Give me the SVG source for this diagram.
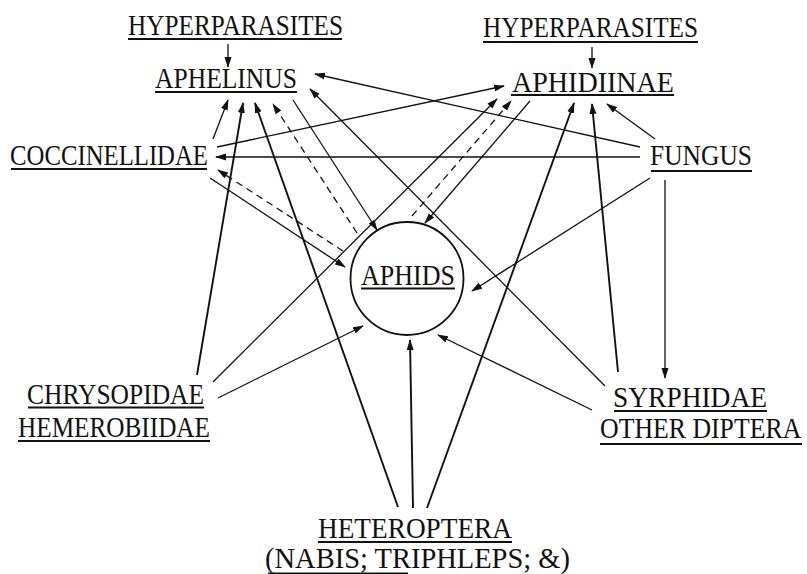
<svg xmlns="http://www.w3.org/2000/svg" width="807" height="574" viewBox="0 0 807 574">
<style>
  text { font-family: "Liberation Serif", "Times New Roman", serif; font-size: 30px; fill: #111; }
  .ul { stroke: #111; stroke-width: 2.2; }
  .e { stroke: #111; stroke-width: 1.3; fill: none; marker-end: url(#ah); }
  .b { stroke-width: 1.9; }
  .d { stroke-dasharray: 7 5; }
</style>
<defs>
  <marker id="ah" markerUnits="userSpaceOnUse" markerWidth="11" markerHeight="8" refX="10" refY="4" orient="auto">
    <path d="M0,0.5 L11,4 L0,7.5 z" fill="#111"/>
  </marker>
</defs>
<rect width="807" height="574" fill="#fff"/>

<g id="connectors">
  <line class="e" x1="228" y1="44" x2="228" y2="67"/>
  <line class="e" x1="592" y1="47" x2="592" y2="68"/>
  <line class="e" x1="213" y1="139" x2="228" y2="100"/>
  <line class="e b" x1="197" y1="375" x2="243" y2="103"/>
  <line class="e b" x1="398" y1="507" x2="255" y2="103"/>
  <line class="e d" x1="357" y1="233" x2="273" y2="104"/>
  <line class="e" x1="640" y1="147" x2="315" y2="74"/>
  <line class="e" x1="605" y1="386" x2="310" y2="89"/>
  <line class="e" x1="293" y1="100" x2="377" y2="230"/>
  <line class="e" x1="640" y1="157" x2="216" y2="157"/>
  <line class="e d" x1="343" y1="251" x2="218" y2="170"/>
  <line class="e" x1="217" y1="147" x2="504" y2="86"/>
  <line class="e" x1="210" y1="178" x2="345" y2="267"/>
  <line class="e" x1="213" y1="382" x2="497" y2="99"/>
  <line class="e d" x1="412" y1="216" x2="511" y2="101"/>
  <line class="e" x1="530" y1="101" x2="425" y2="223"/>
  <line class="e b" x1="427" y1="508" x2="574" y2="103"/>
  <line class="e b" x1="618" y1="372" x2="592" y2="104"/>
  <line class="e" x1="655" y1="139" x2="607" y2="104"/>
  <line class="e" x1="650" y1="178" x2="472" y2="291"/>
  <line class="e" x1="665" y1="180" x2="665" y2="378"/>
  <line class="e" x1="218" y1="398" x2="363" y2="326"/>
  <line class="e b" x1="413" y1="508" x2="410" y2="340"/>
  <line class="e" x1="592" y1="410" x2="438" y2="335"/>
</g>

<g id="hyperparasites-left">
  <text x="128" y="35" textLength="215" lengthAdjust="spacingAndGlyphs">HYPERPARASITES</text>
  <line class="ul" x1="128" y1="39" x2="342" y2="39"/>
</g>
<g id="aphelinus">
  <text x="155" y="88" textLength="142" lengthAdjust="spacingAndGlyphs">APHELINUS</text>
  <line class="ul" x1="155" y1="92" x2="297" y2="92"/>
</g>
<g id="hyperparasites-right">
  <text x="483" y="37" textLength="215" lengthAdjust="spacingAndGlyphs">HYPERPARASITES</text>
  <line class="ul" x1="483" y1="42" x2="698" y2="42"/>
</g>
<g id="aphidiinae">
  <text x="512" y="92" textLength="162" lengthAdjust="spacingAndGlyphs">APHIDIINAE</text>
  <line class="ul" x1="511" y1="95" x2="674" y2="95"/>
</g>
<g id="coccinellidae">
  <text x="10" y="165" textLength="198" lengthAdjust="spacingAndGlyphs">COCCINELLIDAE</text>
  <line class="ul" x1="11" y1="169" x2="207" y2="169"/>
</g>
<g id="fungus">
  <text x="650" y="165" textLength="102" lengthAdjust="spacingAndGlyphs">FUNGUS</text>
  <line class="ul" x1="651" y1="171" x2="752" y2="171"/>
</g>
<g id="aphids">
  <circle cx="407" cy="278.5" r="56.5" fill="none" stroke="#111" stroke-width="1.8"/>
  <text x="361" y="285" textLength="94" lengthAdjust="spacingAndGlyphs">APHIDS</text>
  <line class="ul" x1="361" y1="288.5" x2="455" y2="288.5"/>
</g>
<g id="chrysopidae-hemerobiidae">
  <text x="27" y="404" textLength="177" lengthAdjust="spacingAndGlyphs">CHRYSOPIDAE</text>
  <line class="ul" x1="28" y1="407.5" x2="204" y2="407.5"/>
  <text x="18" y="437" textLength="192" lengthAdjust="spacingAndGlyphs">HEMEROBIIDAE</text>
  <line class="ul" x1="18" y1="441" x2="210" y2="441"/>
</g>
<g id="syrphidae-other-diptera">
  <text x="613" y="407" textLength="154" lengthAdjust="spacingAndGlyphs">SYRPHIDAE</text>
  <line class="ul" x1="614" y1="411" x2="767" y2="411"/>
  <text transform="translate(600,438) scale(0.86,1)" x="0" y="0">OTHER DIPTERA</text>
  <line class="ul" x1="600" y1="444" x2="802" y2="444"/>
</g>
<g id="heteroptera">
  <text x="318" y="538" textLength="194" lengthAdjust="spacingAndGlyphs">HETEROPTERA</text>
  <line class="ul" x1="318" y1="542" x2="512" y2="542"/>
  <text x="265" y="568" textLength="305" lengthAdjust="spacingAndGlyphs">(NABIS; TRIPHLEPS; &amp;)</text>
  <line class="ul" x1="268" y1="573.5" x2="408" y2="573.5"/>
</g>
</svg>
